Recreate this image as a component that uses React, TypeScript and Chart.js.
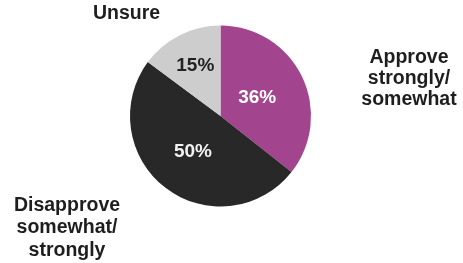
import React, { useEffect, useRef } from "react";
import { Chart, registerables } from "chart.js";

Chart.register(...registerables);

const categories = ["Approve strongly/somewhat", "Disapprove somewhat/strongly", "Unsure"];
const values = [36, 50, 15];
const valueLabels = ["36%", "50%", "15%"];
const outerLabels = [
  ["Approve", "strongly/", "somewhat"],
  ["Disapprove", "somewhat/", "strongly"],
  ["Unsure"],
];

const colors = ["#a3448f", "#282828", "#cdcdcd"];
const valueColors = ["#ffffff", "#f2f2f2", "#222222"];
const valueRadius = [0.45, 0.5, 0.62];
// outer label anchor offsets relative to pie center (pixels)
const outerAnchors = [
  { dx: 188.5, dy: -58, lh: 21 },
  { dx: -153.5, dy: 89.5, lh: 22.5 },
  { dx: -94, dy: -102, lh: 21 },
];

const labelPlugin = {
  id: "pieLabels",
  afterDatasetsDraw(chart: any) {
    const ctx = chart.ctx;
    const meta = chart.getDatasetMeta(0);
    ctx.save();
    ctx.textAlign = "center";
    ctx.textBaseline = "middle";
    meta.data.forEach((arc: any, i: number) => {
      const p = arc.getProps(["x", "y", "startAngle", "endAngle", "outerRadius"], true);
      const mid = (p.startAngle + p.endAngle) / 2;
      const r = p.outerRadius * valueRadius[i];
      ctx.font = "bold 19px 'Liberation Sans', Arial, sans-serif";
      ctx.fillStyle = valueColors[i];
      ctx.fillText(valueLabels[i], p.x + Math.cos(mid) * r, p.y + Math.sin(mid) * r);
      const a = outerAnchors[i];
      ctx.font = "bold 19.5px 'Liberation Sans', Arial, sans-serif";
      ctx.fillStyle = "#1e1e1e";
      outerLabels[i].forEach((line, j) => {
        ctx.fillText(line, p.x + a.dx, p.y + a.dy + j * a.lh);
      });
    });
    ctx.restore();
  },
};

export default function App() {
  const ref = useRef<HTMLCanvasElement>(null);
  useEffect(() => {
    document.body.style.margin = "0";
    const chart = new Chart(ref.current!, {
      type: "pie",
      data: {
        labels: categories,
        datasets: [
          {
            data: values,
            backgroundColor: colors,
            borderWidth: 0,
          },
        ],
      },
      options: {
        responsive: false,
        animation: false,
        layout: { padding: { left: 130, right: 152, top: 25, bottom: 56 } },
        plugins: {
          legend: { display: false },
          tooltip: { enabled: false },
        },
      },
      plugins: [labelPlugin],
    });
    return () => chart.destroy();
  }, []);
  return (
    <div style={{ position: "fixed", left: 0, top: 0, width: 463, height: 263, background: "#fff" }}>
      <canvas ref={ref} width={463} height={263} />
    </div>
  );
}
